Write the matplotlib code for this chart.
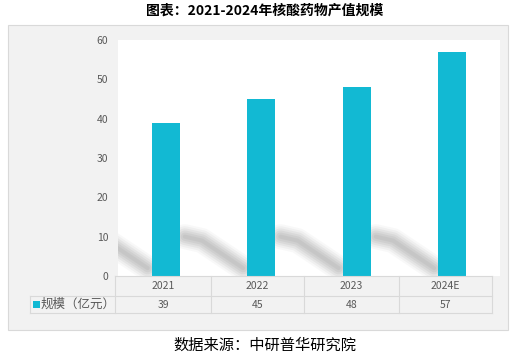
import matplotlib
matplotlib.use('Agg')
import matplotlib.pyplot as plt
import matplotlib.patches as mpatches
from matplotlib.lines import Line2D

plt.rcParams['font.family'] = ['Noto Sans CJK SC', 'DejaVu Sans']

years = ['2021', '2022', '2023', '2024E']
values = [39, 45, 48, 57]
row_label = '规模（亿元）'
yticks = [0, 10, 20, 30, 40, 50, 60]

W, H = 530, 361
bar_c = '#12b9d3'
grid_c = '#d9d9d9'
txt_c = '#595959'

fig = plt.figure(figsize=(W / 100, H / 100), dpi=100)
fig.patch.set_facecolor('white')

def fx(px):
    return px / W

def fy(py):
    return 1 - py / H

# outer gray panel
fig.add_artist(mpatches.Rectangle((fx(8), fy(330)), fx(500), 305 / H,
                                  transform=fig.transFigure, facecolor='#f2f2f2',
                                  edgecolor=grid_c, lw=0.8, zorder=0))

ax = fig.add_axes([fx(118), fy(276), fx(382), 236 / H])
ax.set_facecolor('white')
for s in ax.spines.values():
    s.set_visible(False)

xs = list(range(len(years)))

# soft diagonal shadows
for i in xs:
    sx = [i - 0.80, i - 0.62, i - 0.19]
    sy = [10.0, 9.0, 2.0]
    for lw, a in [(18, 0.05), (15, 0.07), (12, 0.09), (9, 0.10), (6, 0.11), (3, 0.10)]:
        ax.plot(sx, sy, color='#808080', lw=lw, alpha=a, solid_capstyle='round',
                solid_joinstyle='round', zorder=1)

ax.bar(xs, values, width=0.29, color=bar_c, zorder=3)
ax.set_xlim(-0.5, len(years) - 0.5)
ax.set_ylim(0, 60)
ax.set_yticks(yticks)
ax.set_yticklabels([str(t) for t in yticks], fontsize=7.5, color=txt_c)
ax.tick_params(axis='y', length=0, pad=7)
ax.set_xticks([])

# data table below the plot
col_edges = [115, 211, 304, 399, 492]
label_left = 30
row_tops = [276, 296, 313]

def hline(y, x0, x1):
    fig.add_artist(Line2D([fx(x0), fx(x1)], [fy(y), fy(y)], color=grid_c, lw=0.8,
                          transform=fig.transFigure))

def vline(x, y0, y1):
    fig.add_artist(Line2D([fx(x), fx(x)], [fy(y0), fy(y1)], color=grid_c, lw=0.8,
                          transform=fig.transFigure))

hline(row_tops[0], col_edges[0], col_edges[-1])
hline(row_tops[1], label_left, col_edges[-1])
hline(row_tops[2], label_left, col_edges[-1])
vline(label_left, row_tops[1], row_tops[2])
for x in col_edges:
    vline(x, row_tops[0], row_tops[2])

for k, (yr, v) in enumerate(zip(years, values)):
    cx = (col_edges[k] + col_edges[k + 1]) / 2
    fig.text(fx(cx), fy((row_tops[0] + row_tops[1]) / 2), yr, ha='center', va='center',
             fontsize=7.5, color=txt_c)
    fig.text(fx(cx), fy((row_tops[1] + row_tops[2]) / 2), str(v), ha='center', va='center',
             fontsize=7.5, color=txt_c)

ry = (row_tops[1] + row_tops[2]) / 2
fig.add_artist(mpatches.Rectangle((fx(33), fy(ry + 3.5)), fx(7), 7 / H,
                                  transform=fig.transFigure, facecolor=bar_c, lw=0))
fig.text(fx(41), fy(ry), row_label, ha='left', va='center', fontsize=9, color=txt_c)

fig.text(0.5, fy(11), '图表：2021-2024年核酸药物产值规模', ha='center', va='center',
         fontsize=10, fontweight='bold', color='black')
fig.text(0.5, fy(345), '数据来源：中研普华研究院', ha='center', va='center',
         fontsize=11, color='black')

fig.savefig('out.png', dpi=100)
